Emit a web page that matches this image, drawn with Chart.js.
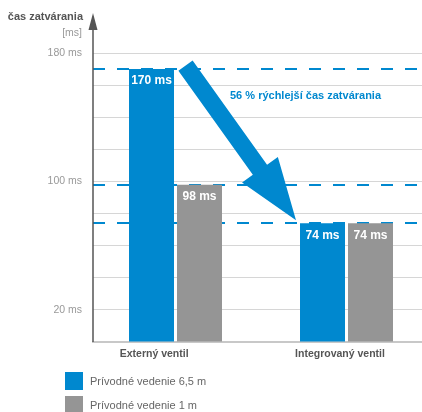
<!DOCTYPE html>
<html>
<head>
<meta charset="utf-8">
<script src="https://cdn.jsdelivr.net/npm/chart.js@4.4.1/dist/chart.umd.min.js"></script>
<style>
  html, body { margin: 0; padding: 0; background: #fff; }
  .wrap { position: relative; width: 422px; height: 412px; overflow: hidden; }
  #chart { position: absolute; left: 0; top: 0; }
  .legend { position: absolute; left: 65px; top: 372px; font: 11px "Liberation Sans", Arial, sans-serif; color: #666; }
  .legend div { display: flex; align-items: center; height: 18px; margin-bottom: 6px; }
  .legend i { display: inline-block; width: 18px; height: 18px; margin-right: 7px; }
</style>
</head>
<body>
<div class="wrap">
  <canvas id="chart" width="422" height="412"></canvas>
  <div class="legend" id="legend"></div>
</div>
<script>
const categories = ["Externý ventil", "Integrovaný ventil"];
const catPos = [1, 3];
const seriesLabels = ["Prívodné vedenie 6,5 m", "Prívodné vedenie 1 m"];
const longLine = [170, 74];
const shortLine = [98, 74];
const refLines = [170, 98, 74];
const yLabeled = [180, 100, 20];
const noteText = "56 % rýchlejší čas zatvárania";
const axisTitle = "čas zatvárania";
const axisUnit = "[ms]";

const BLUE = "#0088cf";
const GRAY = "#959595";
const FONT = '"Liberation Sans", Arial, sans-serif';
// category labels sit a bit off the bar-group centres in the original
const LABEL_SHIFT = [-0.25, -0.076];

// dashed reference lines, value labels, y-axis arrow, big arrow, titles
const decorPlugin = {
  id: "decor",
  beforeDatasetsDraw(chart) {
    const { ctx, chartArea: a, scales: { y } } = chart;
    ctx.save();
    ctx.strokeStyle = BLUE;
    ctx.lineWidth = 2;
    ctx.setLineDash([12, 12]);
    refLines.forEach((v) => {
      const py = Math.round(y.getPixelForValue(v));
      ctx.beginPath();
      ctx.moveTo(a.left, py);
      ctx.lineTo(a.right, py);
      ctx.stroke();
    });
    ctx.restore();
  },
  afterDatasetsDraw(chart) {
    const { ctx, chartArea: a, scales: { y } } = chart;
    ctx.save();

    // value labels inside bars
    ctx.fillStyle = "#fff";
    ctx.font = "bold 12px " + FONT;
    ctx.textAlign = "center";
    ctx.textBaseline = "middle";
    chart.data.datasets.forEach((ds, i) => {
      chart.getDatasetMeta(i).data.forEach((el, j) => {
        ctx.fillText(ds.data[j].y + " ms", el.x, el.y + 12);
      });
    });

    // y axis with arrow head
    ctx.strokeStyle = "#555";
    ctx.fillStyle = "#555";
    ctx.lineWidth = 1.5;
    ctx.beginPath();
    ctx.moveTo(a.left, a.bottom);
    ctx.lineTo(a.left, 24);
    ctx.stroke();
    ctx.beginPath();
    ctx.moveTo(a.left, 13);
    ctx.lineTo(a.left + 4.5, 30);
    ctx.lineTo(a.left - 4.5, 30);
    ctx.closePath();
    ctx.fill();

    // axis title
    ctx.textAlign = "right";
    ctx.font = "bold 11px " + FONT;
    ctx.fillText(axisTitle, a.left - 10, 17);
    ctx.fillStyle = "#999";
    ctx.font = "10.5px " + FONT;
    ctx.fillText(axisUnit, a.left - 11, 33);

    // big arrow from first blue bar to second blue bar
    const b1 = chart.getDatasetMeta(0).data[0];
    const b2 = chart.getDatasetMeta(0).data[1];
    const s = { x: b1.x + b1.width / 2 + 11.5, y: y.getPixelForValue(longLine[0]) - 3.5 };
    const t = { x: b2.x - b2.width / 2 - 4, y: y.getPixelForValue(longLine[1]) - 3 };
    const dx = t.x - s.x, dy = t.y - s.y;
    const L = Math.hypot(dx, dy);
    const ux = dx / L, uy = dy / L, nx = -uy, ny = ux;
    const hw = 8.75, headLen = 62, headHw = 22;
    const bx = s.x + ux * (L - headLen), by = s.y + uy * (L - headLen);
    ctx.fillStyle = BLUE;
    ctx.beginPath();
    ctx.moveTo(s.x + nx * hw, s.y + ny * hw);
    ctx.lineTo(bx + nx * hw, by + ny * hw);
    ctx.lineTo(bx + nx * headHw, by + ny * headHw);
    ctx.lineTo(t.x, t.y);
    ctx.lineTo(bx - nx * headHw, by - ny * headHw);
    ctx.lineTo(bx - nx * hw, by - ny * hw);
    ctx.lineTo(s.x - nx * hw, s.y - ny * hw);
    ctx.closePath();
    ctx.fill();

    // note text
    ctx.font = "bold 11px " + FONT;
    ctx.textAlign = "left";
    ctx.fillText(noteText, s.x + 44.5, y.getPixelForValue(153));

    ctx.restore();
  },
};

const chart = new Chart(document.getElementById("chart"), {
  type: "bar",
  data: {
    datasets: [
      {
        label: seriesLabels[0],
        data: catPos.map((x, i) => ({ x, y: longLine[i] })),
        backgroundColor: BLUE,
      },
      {
        label: seriesLabels[1],
        data: catPos.map((x, i) => ({ x, y: shortLine[i] })),
        backgroundColor: GRAY,
      },
    ],
  },
  options: {
    responsive: false,
    animation: false,
    categoryPercentage: 0.5614,
    barPercentage: 0.9375,
    layout: { padding: { top: 53, left: 0, right: 0, bottom: 0 } },
    plugins: { legend: { display: false }, tooltip: { enabled: false } },
    scales: {
      x: {
        type: "linear",
        min: 0.035,
        max: 3.883,
        offset: false,
        afterBuildTicks: (s) => {
          s.ticks = catPos.map((v, i) => ({ value: v + LABEL_SHIFT[i] }));
        },
        afterFit: (s) => { s.height = 70; },
        grid: { display: false, drawTicks: false, offset: false },
        border: { display: true, color: "#c8c8c8", width: 2 },
        ticks: {
          callback: (v, i) => categories[i],
          font: { family: FONT, size: 10.5, weight: "bold" },
          color: "#555",
          padding: 6,
          maxRotation: 0,
          autoSkip: false,
        },
      },
      y: {
        min: 0,
        max: 180,
        afterFit: (s) => { s.width = 93; },
        grid: { color: "#d6d6d6", lineWidth: 1, drawTicks: false },
        border: { display: false },
        ticks: {
          stepSize: 20,
          callback: (v) => (yLabeled.includes(v) ? v + " ms" : ""),
          font: { family: FONT, size: 10.5 },
          color: "#999",
          padding: 11,
        },
      },
    },
  },
  plugins: [decorPlugin],
});

// html legend from datasets
document.getElementById("legend").innerHTML = chart.data.datasets
  .map((ds) => `<div><i style="background:${ds.backgroundColor}"></i>${ds.label}</div>`)
  .join("");
</script>
</body>
</html>
